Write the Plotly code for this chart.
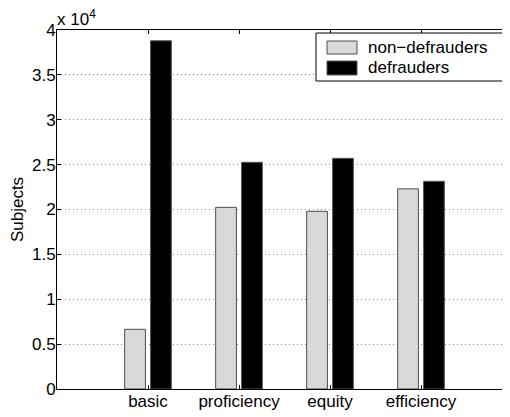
import plotly.graph_objects as go

categories = ["basic", "proficiency", "equity", "efficiency"]
non_defrauders = [6650, 20240, 19800, 22300]
defrauders = [38800, 25260, 25700, 23140]
series_names = ["non\u2212defrauders", "defrauders"]
y_tick_vals = [0, 5000, 10000, 15000, 20000, 25000, 30000, 35000, 40000]
y_tick_text = ["0", "0.5", "1", "1.5", "2", "2.5", "3", "3.5", "4"]

# page body adds an 8px margin, so the figure is sized to fit the window after it
OFF = 8
W, H = 510 - OFF, 417 - OFF
L, R, T, B = 57 - OFF, 1, 30 - OFF, 28
pw, ph = W - L - R, H - T - B

def px(x):
    return (x - OFF - L) / pw

def py(y):
    return (H - B - (y - OFF)) / ph

FAM = "Liberation Sans, Arial, Helvetica, sans-serif"
FS = 17
font = dict(family=FAM, size=FS, color="black")

fig = go.Figure()
fig.add_trace(go.Bar(x=categories, y=non_defrauders, name=series_names[0],
                     marker=dict(color="#d9d9d9", line=dict(color="#4d4d4d", width=1)),
                     showlegend=False))
fig.add_trace(go.Bar(x=categories, y=defrauders, name=series_names[1],
                     marker=dict(color="black", line=dict(color="#555555", width=1)),
                     showlegend=False))

fig.update_layout(
    width=W, height=H,
    margin=dict(l=L, r=R, t=T, b=B, pad=0),
    plot_bgcolor="white", paper_bgcolor="white",
    font=font,
    barmode="group", bargap=0.43, bargroupgap=0.2,
    showlegend=False,
)
fig.update_xaxes(
    type="category", range=[-1, pw / 91 - 1], automargin=False,
    showline=True, linecolor="black", linewidth=1, mirror="allticks",
    ticks="inside", ticklen=4, tickcolor="black",
    showgrid=False, zeroline=False, ticklabelstandoff=-3,
    tickfont=dict(family=FAM, size=FS, color="black"),
)
fig.update_yaxes(
    range=[0, 40000], tickvals=y_tick_vals, ticktext=y_tick_text, automargin=False,
    showline=True, linecolor="black", linewidth=1, mirror="allticks",
    ticks="inside", ticklen=4, tickcolor="black", ticklabelstandoff=-3,
    showgrid=True, gridcolor="#8c8c8c", griddash="1px,3px", gridwidth=1,
    zeroline=False,
    tickfont=dict(family=FAM, size=FS, color="black"),
    title=dict(text="Subjects", font=dict(family=FAM, size=FS, color="black"), standoff=4),
)

annotations = [
    dict(text="x 10<sup>4</sup>", xref="paper", yref="paper", x=px(55), y=py(31),
         xanchor="left", yanchor="bottom", showarrow=False,
         font=dict(family=FAM, size=FS, color="black")),
]
shapes = [
    dict(type="rect", xref="paper", yref="paper", x0=px(316), x1=px(507), y0=py(81), y1=py(33),
         line=dict(color="black", width=1), fillcolor="white", layer="above"),
    dict(type="rect", xref="paper", yref="paper", x0=px(327), x1=px(357), y0=py(54), y1=py(41),
         line=dict(color="#4d4d4d", width=1), fillcolor="#d9d9d9", layer="above"),
    dict(type="rect", xref="paper", yref="paper", x0=px(327), x1=px(357), y0=py(75), y1=py(61),
         line=dict(color="#555555", width=1), fillcolor="black", layer="above"),
]
for name, yc in zip(series_names, [47.5, 68]):
    annotations.append(dict(text=name, xref="paper", yref="paper", x=px(366), y=py(yc),
                            xanchor="left", yanchor="middle", showarrow=False,
                            font=dict(family=FAM, size=FS, color="black")))
fig.update_layout(annotations=annotations, shapes=shapes)

fig.write_html("out.html")
